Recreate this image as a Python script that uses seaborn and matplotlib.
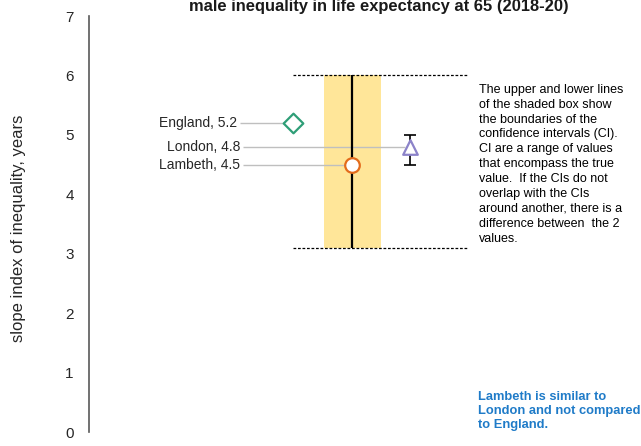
import numpy as np
import matplotlib
matplotlib.use("Agg")
import matplotlib.pyplot as plt
import seaborn as sns

# Slope index of inequality in male life expectancy at 65, 2018-20
areas = ["England", "London", "Lambeth"]
sii = [5.2, 4.8, 4.5]
ci_low = [np.nan, 4.5, 3.1]
ci_high = [np.nan, 5.0, 6.0]

y_ticks = [0, 1, 2, 3, 4, 5, 6, 7]
title = "male inequality in life expectancy at 65 (2018-20)"
y_label = "slope index of inequality, years"
ci_note = ("The upper and lower lines\nof the shaded box show\nthe boundaries of the\n"
           "confidence intervals (CI).\nCI are a range of values\nthat encompass the true\n"
           "value.  If the CIs do not\noverlap with the CIs\naround another, there is a\n"
           "difference between  the 2\nvalues.")
verdict = "Lambeth is similar to\nLondon and not compared\nto England."

# layout (horizontal positions in axis units)
x_pos = {"England": 204, "London": 321, "Lambeth": 263}
label_right = {"England": 148, "London": 151, "Lambeth": 151}
line_start = {"England": 151, "London": 154, "Lambeth": 154}
line_end = {"England": 198, "London": 316, "Lambeth": 256}
styles = {
    "England": dict(marker="D", size=10, color="#2E9E77"),
    "London": dict(marker="^", size=10.5, color="#8C83C9"),
    "Lambeth": dict(marker="o", size=10.5, color="#E36C1C"),
}

sns.set_theme(style="white")
plt.rcParams["font.family"] = ["Liberation Sans", "DejaVu Sans"]

fig = plt.figure(figsize=(6.41, 4.46), dpi=100)
ax = fig.add_axes([89 / 641, 1 - 432 / 446, 552 / 641, 416 / 446])
ax.set_xlim(0, 552)
ax.set_ylim(0, 7)

lam = areas.index("Lambeth")
lx = x_pos["Lambeth"]

# shaded confidence box for Lambeth
ax.bar(lx, ci_high[lam] - ci_low[lam], bottom=ci_low[lam], width=57,
       color="#FFE699", zorder=1, linewidth=0)
ax.hlines([ci_low[lam], ci_high[lam]], 204, 379, colors="black",
          linestyles=(0, (2.2, 1.4)), linewidth=0.9, zorder=2)

# leader lines and labels
for i, a in enumerate(areas):
    ax.hlines(sii[i], line_start[a], line_end[a], colors="#BFBFBF",
              linewidth=1.0, zorder=3)
    ax.text(label_right[a], sii[i], f"{a}, {sii[i]:.1f}", ha="right",
            va="center", fontsize=10, color="#262626")

ax.vlines(lx, ci_low[lam], ci_high[lam], colors="black", linewidth=1.6, zorder=4)

lon = areas.index("London")
ax.errorbar(x_pos["London"], sii[lon],
            yerr=[[sii[lon] - ci_low[lon]], [ci_high[lon] - sii[lon]]],
            fmt="none", ecolor="black", elinewidth=1.2, capsize=4, capthick=1.2,
            zorder=4)

for i, a in enumerate(areas):
    st = styles[a]
    sns.scatterplot(x=[x_pos[a]], y=[sii[i]], marker=st["marker"],
                    s=st["size"] ** 2, color="white", edgecolor=st["color"],
                    linewidth=1.6, ax=ax, zorder=5, legend=False)

ax.text(390, 5.86, ci_note, ha="left", va="top", fontsize=9,
        color="#000000", linespacing=1.32)
ax.text(389, 0.69, verdict, ha="left", va="top", fontsize=9.3,
        fontweight="bold", color="#1F7BC8", linespacing=1.22)

# axes styling: only the left spine
for side in ["top", "right", "bottom"]:
    ax.spines[side].set_visible(False)
ax.spines["left"].set_color("#595959")
ax.spines["left"].set_linewidth(1.2)
ax.set_xticks([])
ax.set_yticks(y_ticks)
ax.set_yticklabels([str(t) for t in y_ticks], fontsize=11, color="#262626")
ax.tick_params(axis="y", length=0, pad=11)
ax.set_ylabel(y_label, fontsize=12, color="#262626", va="center")
ax.yaxis.set_label_coords(-0.128, 0.49)
ax.set_xlabel("")
ax.grid(False)

fig.text(379 / 641, 1 - 11 / 446, title, ha="center", va="baseline",
         fontsize=11.9, fontweight="bold", color="#1a1a1a")

fig.savefig("out.png", dpi=100)
